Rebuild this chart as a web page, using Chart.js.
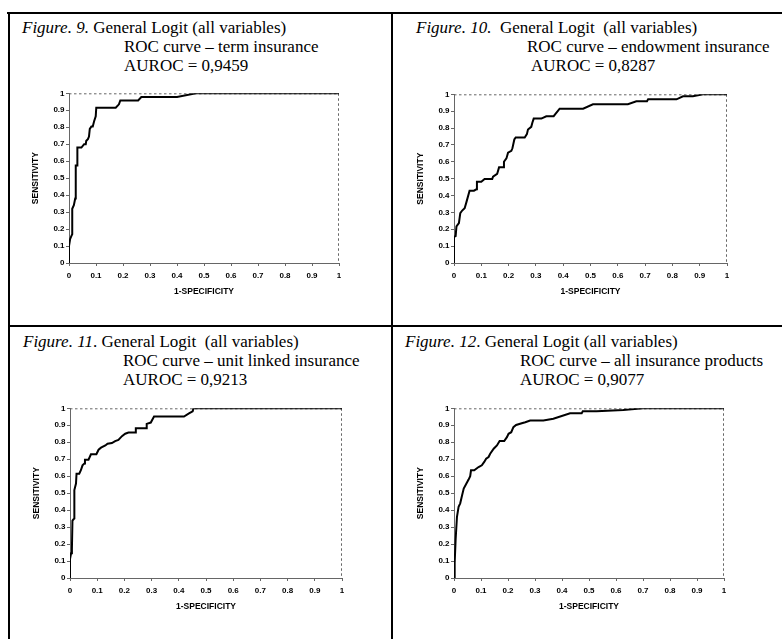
<!DOCTYPE html>
<html>
<head>
<meta charset="utf-8">
<script src="https://cdn.jsdelivr.net/npm/chart.js@4.4.1/dist/chart.umd.min.js"></script>
<style>
  body { margin: 0; width: 782px; height: 639px; background: #fff; position: relative; overflow: hidden; }
  .rule { position: absolute; background: #000; }
  .cap { position: absolute; font-family: 'Liberation Serif', 'Times New Roman', serif; font-size: 17px; line-height: 17px; white-space: pre; color: #000; }
  .cap i { font-style: italic; }
  canvas { position: absolute; }
</style>
</head>
<body>

<!-- table rules -->
<div class="rule" style="left:7px;top:12px;width:775px;height:2px"></div>
<div class="rule" style="left:8px;top:12px;width:2px;height:627px"></div>
<div class="rule" style="left:391px;top:12px;width:2px;height:627px"></div>
<div class="rule" style="left:8px;top:325px;width:774px;height:2px"></div>

<!-- captions (top = baseline - 14) -->
<div class="cap" style="left:22px;top:19px"><i>Figure. 9.</i> General Logit (all variables)</div>
<div class="cap" style="left:124px;top:38px">ROC curve – term insurance</div>
<div class="cap" style="left:124px;top:57px">AUROC = 0,9459</div>

<div class="cap" style="left:416px;top:19px"><i>Figure. 10.</i>  General Logit  (all variables)</div>
<div class="cap" style="left:527px;top:38px">ROC curve – endowment insurance</div>
<div class="cap" style="left:531px;top:57px">AUROC = 0,8287</div>

<div class="cap" style="left:23px;top:333px"><i>Figure. 11</i>. General Logit  (all variables)</div>
<div class="cap" style="left:123px;top:352px">ROC curve – unit linked insurance</div>
<div class="cap" style="left:123px;top:371px">AUROC = 0,9213</div>

<div class="cap" style="left:405px;top:333px"><i>Figure. 12</i>. General Logit (all variables)</div>
<div class="cap" style="left:520px;top:352px">ROC curve – all insurance products</div>
<div class="cap" style="left:520px;top:371px">AUROC = 0,9077</div>

<canvas id="rocTerm"></canvas>
<canvas id="rocEndow"></canvas>
<canvas id="rocUnit"></canvas>
<canvas id="rocAll"></canvas>

<script>
// ── tick labels shared by both axes ──
const TICK_LABELS = ['0', '0.1', '0.2', '0.3', '0.4', '0.5', '0.6', '0.7', '0.8', '0.9', '1'];

// ── ROC points (1-specificity, sensitivity) ──
const TERM_FPR = [0, 0, 0.004, 0.009, 0.012, 0.012, 0.018, 0.023, 0.025, 0.03, 0.031, 0.046, 0.056, 0.062, 0.064, 0.07, 0.074, 0.077, 0.083, 0.088, 0.093, 0.099, 0.101, 0.173, 0.185, 0.19, 0.256, 0.268, 0.4, 0.47, 1];
const TERM_TPR = [0, 0.1, 0.14, 0.16, 0.17, 0.32, 0.34, 0.38, 0.575, 0.575, 0.68, 0.68, 0.7, 0.7, 0.72, 0.73, 0.745, 0.79, 0.805, 0.805, 0.835, 0.865, 0.915, 0.915, 0.935, 0.958, 0.958, 0.978, 0.978, 1, 1];

const ENDOW_FPR = [0, 0, 0.006, 0.009, 0.018, 0.023, 0.03, 0.039, 0.045, 0.057, 0.073, 0.082, 0.084, 0.1, 0.112, 0.14, 0.143, 0.158, 0.165, 0.18, 0.183, 0.192, 0.198, 0.21, 0.214, 0.221, 0.226, 0.259, 0.267, 0.271, 0.283, 0.287, 0.292, 0.32, 0.338, 0.365, 0.387, 0.473, 0.509, 0.637, 0.668, 0.707, 0.711, 0.815, 0.839, 0.875, 0.912, 1];
const ENDOW_TPR = [0, 0.155, 0.16, 0.217, 0.236, 0.295, 0.311, 0.325, 0.358, 0.429, 0.429, 0.437, 0.482, 0.482, 0.498, 0.498, 0.512, 0.528, 0.567, 0.567, 0.6, 0.62, 0.654, 0.665, 0.68, 0.732, 0.744, 0.744, 0.764, 0.791, 0.807, 0.831, 0.856, 0.856, 0.87, 0.87, 0.915, 0.915, 0.941, 0.941, 0.959, 0.959, 0.97, 0.97, 0.988, 0.988, 1, 1];

const UNIT_FPR = [0, 0, 0.004, 0.007, 0.009, 0.013, 0.016, 0.016, 0.022, 0.024, 0.034, 0.04, 0.046, 0.053, 0.055, 0.068, 0.077, 0.097, 0.105, 0.114, 0.13, 0.138, 0.154, 0.166, 0.178, 0.191, 0.203, 0.215, 0.241, 0.242, 0.28, 0.282, 0.297, 0.309, 0.419, 0.439, 0.451, 0.454, 1];
const UNIT_TPR = [0, 0.111, 0.146, 0.17, 0.338, 0.346, 0.35, 0.518, 0.557, 0.615, 0.615, 0.635, 0.664, 0.674, 0.697, 0.697, 0.729, 0.729, 0.756, 0.768, 0.781, 0.791, 0.795, 0.807, 0.814, 0.836, 0.85, 0.857, 0.857, 0.883, 0.883, 0.908, 0.916, 0.951, 0.951, 0.971, 0.982, 1, 1];

const ALL_FPR = [0, 0.0025, 0.006, 0.011, 0.017, 0.023, 0.03, 0.036, 0.046, 0.054, 0.06, 0.063, 0.075, 0.091, 0.103, 0.112, 0.119, 0.128, 0.134, 0.147, 0.159, 0.169, 0.186, 0.196, 0.202, 0.212, 0.22, 0.23, 0.251, 0.264, 0.282, 0.331, 0.368, 0.43, 0.473, 0.477, 0.528, 0.627, 0.7, 1];
const ALL_TPR = [0, 0.088, 0.225, 0.361, 0.42, 0.44, 0.488, 0.527, 0.557, 0.58, 0.6, 0.635, 0.635, 0.654, 0.664, 0.684, 0.703, 0.713, 0.732, 0.762, 0.781, 0.807, 0.807, 0.83, 0.85, 0.859, 0.889, 0.902, 0.912, 0.918, 0.928, 0.928, 0.938, 0.971, 0.971, 0.982, 0.982, 0.99, 1, 1];

// plot-area boxes on the page (left, right, top, bottom)
const PANELS = [
  { id: 'rocTerm',  fpr: TERM_FPR,  tpr: TERM_TPR,  box: [69, 339, 93, 263] },
  { id: 'rocEndow', fpr: ENDOW_FPR, tpr: ENDOW_TPR, box: [454, 727, 94, 263] },
  { id: 'rocUnit',  fpr: UNIT_FPR,  tpr: UNIT_TPR,  box: [70, 342, 408, 578] },
  { id: 'rocAll',   fpr: ALL_FPR,   tpr: ALL_TPR,   box: [454, 724, 408, 578] },
];

const Y_AXIS_W = 45, X_AXIS_H = 40, PAD_TOP = 6, PAD_RIGHT = 10;
const FRAME = '#666';
const DASH = [2.5, 2.5];

Chart.defaults.font.family = "'Liberation Sans', Arial, sans-serif";
Chart.defaults.color = '#000';

// top + right sides of the dotted frame
const dottedFrame = {
  id: 'dottedFrame',
  beforeDatasetsDraw(chart) {
    const { ctx, chartArea: a } = chart;
    ctx.save();
    ctx.strokeStyle = FRAME;
    ctx.lineWidth = 1;
    ctx.setLineDash(DASH);
    ctx.beginPath();
    ctx.moveTo(a.left, a.top + 0.5);
    ctx.lineTo(a.right, a.top + 0.5);
    ctx.moveTo(a.right - 0.5, a.top);
    ctx.lineTo(a.right - 0.5, a.bottom);
    ctx.stroke();
    ctx.restore();
  }
};

function axisOpts(isX) {
  return {
    type: 'linear',
    min: 0,
    max: 1,
    ticks: {
      stepSize: 0.1,
      autoSkip: false,
      maxRotation: 0,
      padding: isX ? 5 : 1.5,
      font: { size: 8, weight: 'bold' },
      callback: (v, i) => TICK_LABELS[i],
    },
    grid: { drawOnChartArea: false, tickLength: 3, color: FRAME },
    border: { dash: DASH, color: FRAME },
    title: {
      display: true,
      text: isX ? '1-SPECIFICITY' : 'SENSITIVITY',
      font: { size: 8.5, weight: 'bold' },
      padding: isX ? { top: 0, bottom: 6.5 } : { top: 7, bottom: 0 },
    },
    afterFit: s => { if (isX) s.height = X_AXIS_H; else s.width = Y_AXIS_W; },
  };
}

PANELS.forEach(p => {
  const [l, r, t, b] = p.box;
  const el = document.getElementById(p.id);
  el.width = (r - l) + Y_AXIS_W + PAD_RIGHT;
  el.height = (b - t) + PAD_TOP + X_AXIS_H;
  el.style.left = (l - Y_AXIS_W) + 'px';
  el.style.top = (t - PAD_TOP) + 'px';

  new Chart(el, {
    type: 'scatter',
    data: {
      datasets: [{
        data: p.fpr.map((x, i) => ({ x, y: p.tpr[i] })),
        showLine: true,
        borderColor: '#000',
        borderWidth: 2,
        pointRadius: 0,
        tension: 0,
      }],
    },
    options: {
      responsive: false,
      animation: false,
      layout: { padding: { top: PAD_TOP, right: PAD_RIGHT, left: 0, bottom: 0 } },
      plugins: { legend: { display: false }, tooltip: { enabled: false } },
      scales: { x: axisOpts(true), y: axisOpts(false) },
    },
    plugins: [dottedFrame],
  });
});
</script>
</body>
</html>
